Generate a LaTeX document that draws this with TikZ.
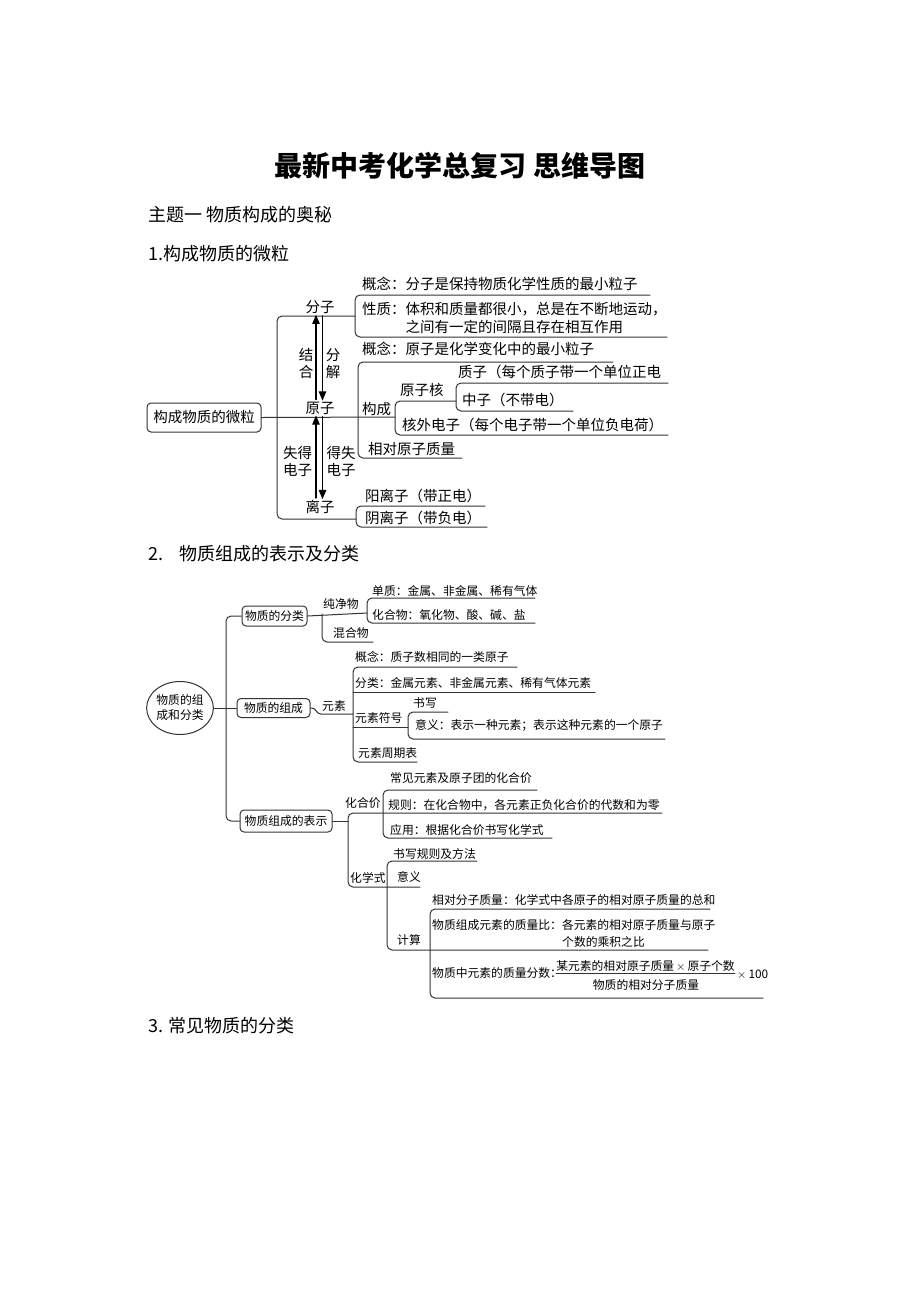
\documentclass[tikz,border=0pt]{standalone}
\usepackage{fontspec}
\setmainfont{Noto Sans CJK SC}
\usepackage{pgf,tikz}
\usetikzlibrary{arrows}
\usetikzlibrary{shapes.geometric}

\begin{document}
\begin{tikzpicture}[line cap=round,line join=round,>=triangle 45,x=1pt,y=-1pt]
\fill[white] (0,0) rectangle (920,1302);
\useasboundingbox (0,0) rectangle (920,1302);
\tikzstyle{lbl}=[anchor=west,inner sep=0pt,font=\fontsize{14.5}{17}\selectfont]
\tikzstyle{lbls}=[anchor=west,inner sep=0pt,font=\fontsize{11.8}{14}\selectfont]
\tikzstyle{head}=[anchor=west,inner sep=0pt,font=\fontsize{18}{21}\selectfont]
\tikzstyle{particle}=[inner sep=2pt,align=center,font=\fontsize{14.5}{17}\selectfont]
\tikzstyle{brace}=[line width=1pt,color=black!80,rounded corners=5pt]
\tikzstyle{rootbox}=[draw=black!80,line width=1pt,rounded corners=4pt,inner sep=0pt]
% headings
\node[font=\fontsize{28}{31}\selectfont\bfseries] (title) at (460,166) {最新中考化学总复习 思维导图};
\node[head] (theme) at (148,215) {主题一 物质构成的奥秘};
\node[head] (sec1) at (148,254) {1.构成物质的微粒};
\node[head] (sec2) at (148,554) {2.\hspace{16pt}物质组成的表示及分类};
\node[head] (sec3) at (148,1026) {3. 常见物质的分类};
% 1. particles
\node[rootbox,minimum width=114pt,minimum height=29pt,font=\fontsize{14.5}{17}\selectfont] (weili) at (204,417.5) {构成物质的微粒};
\node[particle] (fenzi) at (320,307) {分子};
\node[particle] (yuanzi) at (320,408) {原子};
\node[particle] (lizi) at (320,507) {离子};
\node[particle] (jiehe) at (306,363.5) {结\\合};
\node[particle] (fenjie) at (333,363.5) {分\\解};
\node[particle] (shide) at (297.5,461.5) {失得\\电子};
\node[particle] (deshi) at (341,461.5) {得失\\电子};
\draw[brace] (weili.east) -- (395,417);
\draw[brace] (355,316) -- (277,316) -- (277,519) -- (356,519);
\draw[brace] (650,295) -- (355,295) -- (355,337) -- (667,337);
\draw[brace] (613,362) -- (358,362) -- (358,458) -- (462,458);
\draw[brace] (456,401) -- (395,401) -- (395,435) -- (668,435);
\draw[brace] (668,383) -- (456,383) -- (456,411) -- (573,411);
\draw[brace] (485,506) -- (356,506) -- (356,527) -- (487,527);
\draw[->,line width=1.1pt,shorten >=-1pt] ([xshift=-4pt]yuanzi.north) -- ([xshift=-4pt]fenzi.south);
\draw[->,line width=1.1pt,shorten >=-1pt] ([xshift=2.5pt]fenzi.south) -- ([xshift=2.5pt]yuanzi.north);
\draw[->,line width=1.1pt,shorten >=-1pt] ([xshift=-4pt]lizi.north) -- ([xshift=-4pt]yuanzi.south);
\draw[->,line width=1.1pt,shorten >=-1pt] ([xshift=2.5pt]yuanzi.south) -- ([xshift=2.5pt]lizi.north);
\node[lbl] (fzgn) at (362,284) {概念：分子是保持物质化学性质的最小粒子};
\node[lbl] (fzxz) at (362,309) {性质：体积和质量都很小，总是在不断地运动，};
\node[lbl] (fzxz2) at (405.5,327) {之间有一定的间隔且存在相互作用};
\node[lbl] (yzgn) at (362,349) {概念：原子是化学变化中的最小粒子};
\node[lbl] (goucheng) at (362,409) {构成};
\node[lbl] (yzh) at (400,390) {原子核};
\node[lbl] (zhizi) at (458,372) {质子（每个质子带一个单位正电};
\node[lbl] (zhongzi) at (462,400) {中子（不带电）};
\node[lbl] (dianzi) at (402,425) {核外电子（每个电子带一个单位负电荷）};
\node[lbl] (xdyz) at (368,449) {相对原子质量};
\node[lbl] (yang) at (365,496) {阳离子（带正电）};
\node[lbl] (yin) at (365,518) {阴离子（带负电）};
% 2. composition and classification
\node[ellipse,draw=black!80,line width=1pt,inner sep=0pt,minimum width=66pt,minimum height=53pt,align=center,font=\fontsize{11.8}{15}\selectfont] (zucheng) at (180,708) {物质的组\\成和分类};
\node[rootbox,minimum width=65pt,minimum height=20pt,font=\fontsize{11.8}{14}\selectfont] (fenlei) at (274.5,616) {物质的分类};
\node[rootbox,minimum width=73pt,minimum height=19pt,font=\fontsize{11.8}{14}\selectfont] (zc) at (273.5,708) {物质的组成};
\node[rootbox,minimum width=92pt,minimum height=22pt,font=\fontsize{11.8}{14}\selectfont] (biaoshi) at (286,821) {物质组成的表示};
\draw[brace] (zucheng.east) -- (226,708);
\draw[brace] (fenlei.west) -- (226,616) -- (226,821) -- (biaoshi.west);
\draw[brace] (226,708) -- (zc.west);
\draw[brace] (fenlei.east) -- (367,613);
\draw[brace] (322,614) -- (322,642) -- (373,642);
\draw[brace] (535,598) -- (367,598) -- (367,623) -- (535,623);
\node[lbls] (chunjing) at (323,604) {纯净物};
\node[lbls] (hunhe) at (333,633) {混合物};
\node[lbls] (danzhi) at (372,591) {单质：金属、非金属、稀有气体};
\node[lbls] (huahewu) at (372,615) {化合物：氧化物、酸、碱、盐};
\draw[brace,rounded corners=3pt] (zc.east) -- ++(4,0) -- (318,714) -- (353,714);
\draw[brace] (517,667) -- (353,667) -- (353,762) -- (417,762);
\draw[brace] (353,692) -- (595,692);
\draw[brace] (353,727) -- (408,727);
\draw[brace] (448,712) -- (408,712) -- (408,739) -- (665,739);
\node[lbls] (yuansu) at (322,706) {元素};
\node[lbls] (ysgn) at (355,657) {概念：质子数相同的一类原子};
\node[lbls] (ysfl) at (355,683) {分类：金属元素、非金属元素、稀有气体元素};
\node[lbls] (fuhao) at (355,718) {元素符号};
\node[lbls] (shuxie) at (413,703) {书写};
\node[lbls] (yiyi) at (415,725) {意义：表示一种元素；表示这种元素的一个原子};
\node[lbls] (zhouqi) at (358,753) {元素周期表};
% representation
\draw[brace] (biaoshi.east) -- (348,821);
\draw[brace] (662,813) -- (348,813) -- (348,887) -- (420,887);
\draw[brace] (537,790) -- (383,790) -- (383,838) -- (552,838);
\draw[brace] (477,861) -- (387,861) -- (387,950) -- (708,950);
\draw[brace] (710,909) -- (430,909) -- (430,998) -- (763,998);
\node[lbls] (hhj) at (345,803) {化合价};
\node[lbls] (changjian) at (390,778) {常见元素及原子团的化合价};
\node[lbls] (guize) at (388,805) {规则：在化合物中，各元素正负化合价的代数和为零};
\node[lbls] (yingyong) at (390,830) {应用：根据化合价书写化学式};
\node[lbls] (hxs) at (350,878) {化学式};
\node[lbls] (fangfa) at (393,854) {书写规则及方法};
\node[lbls] (hxyy) at (397,877) {意义};
\node[lbls] (jisuan) at (397,940) {计算};
\node[lbls] (xdfz) at (432,900) {相对分子质量：化学式中各原子的相对原子质量的总和};
\node[lbls] (zlb) at (432,925) {物质组成元素的质量比：各元素的相对原子质量与原子};
\node[lbls] (zlb2) at (562,942) {个数的乘积之比};
\node[lbls] (zlfs) at (432,973) {物质中元素的质量分数：};
\node[lbls,anchor=center] (num) at (645.5,966) {某元素的相对原子质量\,$\times$\,原子个数};
\node[lbls,anchor=center] (den) at (646,985) {物质的相对分子质量};
\draw[line width=0.9pt,color=black!80] ([yshift=-1.5pt]num.south west) -- ([yshift=-1.5pt]num.south east);
\node[lbls] (bai) at (737,975) {$\times$\,100};
\end{tikzpicture}
\end{document}
